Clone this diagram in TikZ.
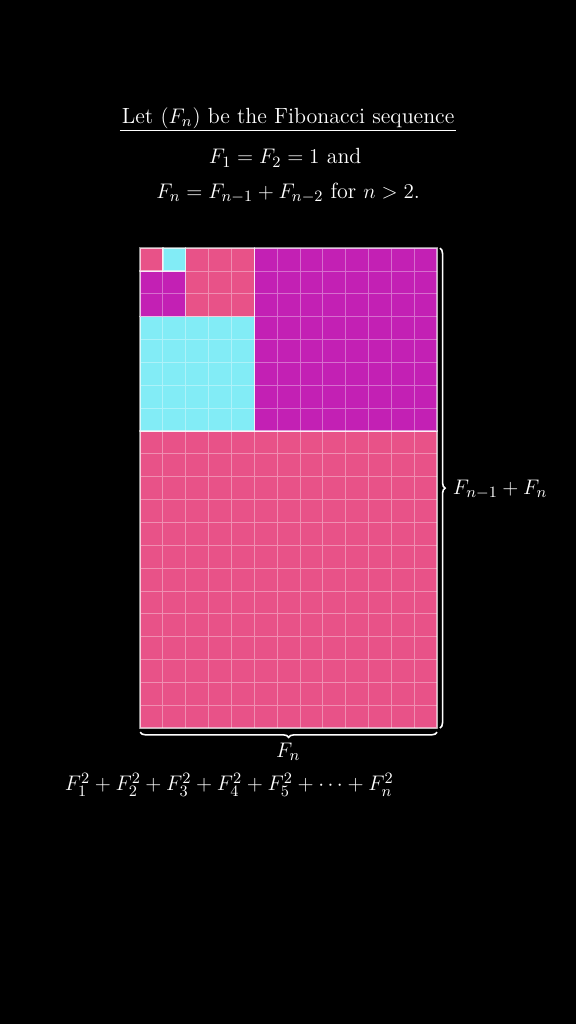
\documentclass[tikz,border=0pt]{standalone}
\usepackage{amsmath}
\usetikzlibrary{decorations.pathreplacing}
\definecolor{fibpink}{RGB}{232,82,136}
\definecolor{fibcyan}{RGB}{130,236,246}
\definecolor{fibpurple}{RGB}{195,32,180}
\begin{document}
\begin{tikzpicture}[x=0.457cm,y=0.457cm,
	every node/.style={text=white,font=\fontsize{12.5}{15}\selectfont},
	big/.style={font=\fontsize{13.2}{16}\selectfont},
	cell/.style={draw=white,draw opacity=0.35,line width=0.5pt},
	edge/.style={draw=white,draw opacity=0.55,line width=0.8pt},
	brc/.style={white,line width=0.9pt,decorate,decoration={brace,amplitude=3pt}}]
	\fill[black] (-6.13,-12.95) rectangle (19.08,31.86);
	\useasboundingbox (-6.13,-12.95) rectangle (19.08,31.86);
	% text above
	\node[inner sep=1pt] (title) at (6.48,26.7) {Let $(F_n)$ be the Fibonacci sequence};
	\draw[white,line width=0.9pt] (title.south west)--(title.south east);
	\node (def) at (6.35,24.95) {$F_1=F_2=1$ and};
	\node (rec) at (6.48,23.41) {$F_n=F_{n-1}+F_{n-2}$ for $n>2$.};
	% squares: x/y/side/colour
	\foreach \x/\y/\s/\c in {0/0/13/fibpink,5/13/8/fibpurple,0/13/5/fibcyan,
		2/18/3/fibpink,0/18/2/fibpurple,0/20/1/fibpink,1/20/1/fibcyan}{
		\fill[\c] (\x,\y) rectangle ({\x+\s},{\y+\s});
		\draw[cell,step=1] (\x,\y) grid ({\x+\s},{\y+\s});
		\draw[edge] (\x,\y) rectangle ({\x+\s},{\y+\s});
	}
	% braces
	\draw[brc] (13.12,21)--(13.12,0);
	\node[big,anchor=west,inner sep=1pt] (side) at (13.6,10.42) {$F_{n-1}+F_n$};
	\draw[brc] (13,-0.18)--(0,-0.18);
	\node[big] (base) at (6.48,-1.05) {$F_n$};
	\node[big] (sum) at (3.9,-2.49) {$F_1^2+F_2^2+F_3^2+F_4^2+F_5^2+\cdots+F_n^2$};
\end{tikzpicture}
\end{document}
